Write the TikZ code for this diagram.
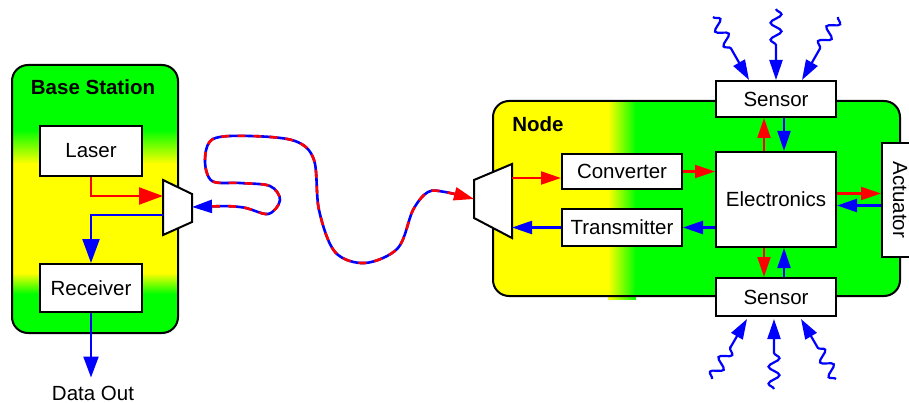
\documentclass[tikz,border=0pt]{standalone}
\usepackage{fontspec}
\setmainfont{Liberation Sans}
\usetikzlibrary{arrows.meta,decorations.pathmorphing,calc}
\definecolor{pgreen}{RGB}{0,255,0}
\definecolor{pyellow}{RGB}{255,255,0}
\definecolor{pred}{RGB}{255,0,0}
\definecolor{pblue}{RGB}{0,0,255}
\begin{document}
\begin{tikzpicture}[x=1pt,y=-1pt,
  font=\fontsize{20.5}{24}\selectfont,
  box/.style={draw=black, line width=2pt, fill=white, inner sep=0pt},
  panel/.style={draw=black, line width=2pt, rounded corners=16pt},
  mux/.style={draw=black, line width=2pt, fill=white, line join=miter},
  tip/.style={-{Triangle[length=20pt,width=13pt]}},
  midtip/.style={-{Triangle[length=21pt,width=15pt]}},
  bigtip/.style={-{Triangle[length=24pt,width=17pt]}},
  redline/.style={draw=pred, line width=2.2pt},
  blueline/.style={draw=pblue, line width=2.2pt},
  wave/.style={blueline, tip, decorate,
    decoration={snake, amplitude=5.5pt, segment length=17pt, post length=32pt}},
  title/.style={font=\fontsize{20.5}{24}\selectfont\bfseries, inner sep=0pt},
  label/.style={inner sep=0pt},
]
\useasboundingbox (0,0) rectangle (909,403);

% ---- Base station panel: green / yellow / green bands
\begin{scope}
  \clip[rounded corners=16pt] (12,65) rectangle (178,333);
  \fill[pgreen] (12,65) rectangle (178,333);
  \shade[top color=pgreen, bottom color=pyellow] (12,130) rectangle (178,164);
  \fill[pyellow] (12,163) rectangle (178,274);
  \shade[top color=pyellow, bottom color=pgreen] (12,273) rectangle (178,294);
\end{scope}
\draw[panel] (12,65) rectangle (178,333);

% ---- Remote node panel: yellow fading into green
\begin{scope}
  \clip[rounded corners=16pt] (493,101) rectangle (900,296);
  \fill[pyellow] (493,101) rectangle (609,296);
  \shade[left color=pyellow, right color=pgreen] (608,101) rectangle (636,296);
  \fill[pgreen] (635,101) rectangle (900,296);
\end{scope}
\shade[left color=pyellow, right color=pgreen] (608,296) rectangle (636,299);
\draw[panel] (493,101) rectangle (900,296);

\node[title] (bstitle) at (93,87) {Base Station};
\node[title] (nodetitle) at (538,124) {Node};

% ---- Multiplexers
\draw[mux] (163,180) -- (192,194) -- (192,222) -- (163,235) -- cycle;
\coordinate (bmuxA) at (163,196);
\coordinate (bmuxB) at (163,215);
\coordinate (bmuxF) at (192,207);
\draw[mux] (474,180) -- (512,164) -- (512,238) -- (474,218) -- cycle;
\coordinate (nmuxF) at (474,199);
\coordinate (nmuxA) at (512,178);
\coordinate (nmuxB) at (512,227);

% ---- Fibre link (bidirectional)
\draw[blueline, line width=2.6pt, {Triangle[length=20pt,width=13pt]}-, shorten >=16pt]
  plot[smooth, tension=0.55] coordinates {(bmuxF) (240,207) (268,214) (280,200) (270,186)
    (240,183) (212,181) (205,160) (213,139) (250,136) (295,141) (314,160) (319,210)
    (335,252) (365,263) (398,248) (413,210) (428,192) (445,192) (nmuxF)};
\draw[redline, line width=2.6pt, dash pattern=on 8pt off 8pt,
      -{Triangle[length=20pt,width=13pt]}, shorten <=20pt]
  plot[smooth, tension=0.55] coordinates {(bmuxF) (240,207) (268,214) (280,200) (270,186)
    (240,183) (212,181) (205,160) (213,139) (250,136) (295,141) (314,160) (319,210)
    (335,252) (365,263) (398,248) (413,210) (428,192) (445,192) (nmuxF)};

% ---- Boxes
\node[box, minimum width=102pt, minimum height=50pt] (laser) at (91,151) {Laser};
\node[box, minimum width=102pt, minimum height=48pt] (receiver) at (91,288) {Receiver};
\node[label] (dataout) at (93,393) {Data Out};

\node[box, minimum width=120pt, minimum height=35pt] (converter) at (622,171.5) {Converter};
\node[box, minimum width=120pt, minimum height=37pt] (transmitter) at (622,227.5) {Transmitter};
\node[box, minimum width=120pt, minimum height=95pt] (electronics) at (776,199.5) {Electronics};
\node[box, minimum width=120pt, minimum height=36pt] (sensortop) at (776,99) {Sensor};
\node[box, minimum width=120pt, minimum height=38pt] (sensorbot) at (776,297) {Sensor};
\node[box, minimum width=36pt, minimum height=114pt] (actuator) at (900,200) {};
\node[label, rotate=-90] (actlabel) at (actuator.center) {Actuator};

% ---- Base station signal paths
\draw[redline, bigtip] (laser.south) |- (bmuxA);
\draw[blueline, bigtip] (bmuxB) -| (receiver.north);
\draw[blueline, midtip, shorten >=8pt] (receiver.south) -- (receiver.south |- dataout.north);

% ---- Node signal paths
\draw[redline, tip] (nmuxA) -- (nmuxA -| converter.west);
\draw[blueline, tip] (transmitter.west) -- (transmitter.west -| nmuxB);
\draw[redline, tip] (converter.east) -- (converter.east -| electronics.west);
\draw[blueline, tip] (electronics.west |- transmitter.east) -- (transmitter.east);

\coordinate (eA) at ([yshift=6pt]electronics.east);
\coordinate (eB) at ([yshift=-6pt]electronics.east);
\draw[redline, tip] (eA) -- (eA -| actuator.west);
\draw[blueline, tip] (eB -| actuator.west) -- (eB);

\coordinate (sA) at ([xshift=-12pt]electronics.north);
\coordinate (sB) at ([xshift=8pt]electronics.north);
\coordinate (sC) at ([xshift=-12pt]electronics.south);
\coordinate (sD) at ([xshift=8pt]electronics.south);
\draw[redline, tip] (sA) -- (sA |- sensortop.south);
\draw[blueline, tip] (sB |- sensortop.south) -- (sB);
\draw[redline, tip] (sC) -- (sC |- sensorbot.north);
\draw[blueline, tip] (sD |- sensorbot.north) -- (sD);

% ---- Incoming radiation on the sensors
\coordinate (w1) at (713,17);
\coordinate (w2) at (776,9);
\coordinate (w3) at (838,17);
\coordinate (w4) at (712,379);
\coordinate (w5) at (774,389);
\coordinate (w6) at (836,379);
\draw[wave] (w1) -- ([xshift=-27pt]sensortop.north);
\draw[wave] (w2) -- (sensortop.north);
\draw[wave] (w3) -- ([xshift=26pt]sensortop.north);
\draw[wave] (w4) -- ([xshift=-29pt,yshift=-2pt]sensorbot.south);
\draw[wave] (w5) -- ([xshift=-2pt,yshift=-2pt]sensorbot.south);
\draw[wave] (w6) -- ([xshift=25pt,yshift=-2pt]sensorbot.south);
\end{tikzpicture}
\end{document}
